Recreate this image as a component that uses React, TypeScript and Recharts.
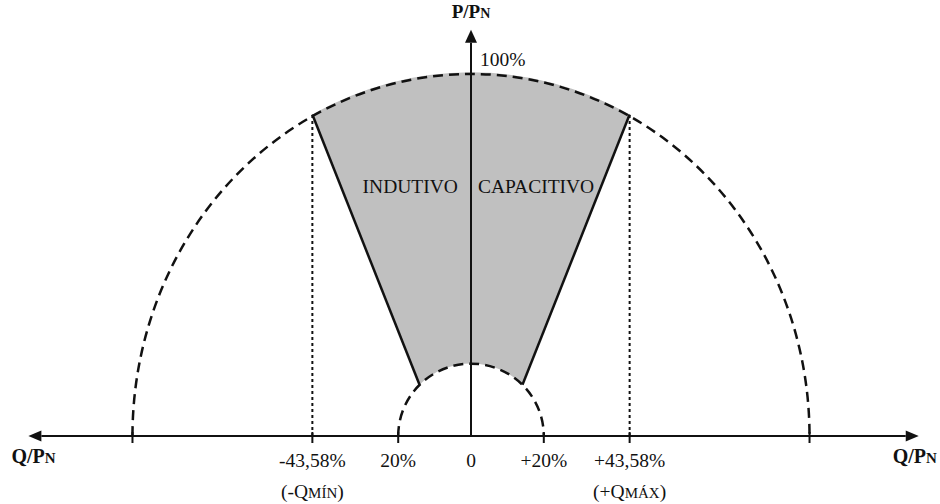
import React from 'react';
import { ComposedChart, XAxis, YAxis, Line, ReferenceLine, ReferenceArea } from 'recharts';

// geometry of the diagram, in % of Pn
const outerArc = { q: 93, p: 100 }; // big dashed arc as drawn (100% on P axis)
const innerArc = 20; // small dashed arc radius
const qLimits = [-43.58, 43.58];
const vertexP = 88.8; // where the limit lines meet the big arc
const innerJoint = { q: 14.14, p: 14.14 }; // where the edges meet the small arc

const leftEdge = [
  { q: -innerJoint.q, p: innerJoint.p },
  { q: qLimits[0], p: vertexP },
];
const rightEdge = [
  { q: innerJoint.q, p: innerJoint.p },
  { q: qLimits[1], p: vertexP },
];

const tickValues = [-93, -43.58, -20, 0, 20, 43.58, 93];
const tickLabels = ['', '-43,58%', '20%', '0', '+20%', '+43,58%', ''];
const tickNotes: (string[] | null)[] = [null, ['(-Q', 'MÍN', ')'], null, null, null, ['(+Q', 'MÁX', ')'], null];

const qAxisEnds = [-121.6, 123];
const pAxisTop = 112.2;
const regionLabels = ['INDUTIVO', 'CAPACITIVO'];

const FONT = "'Liberation Serif', 'Times New Roman', serif";
const INK = '#111';

const arrowHead = (x1: number, y1: number, x2: number, y2: number, len: number, hw: number) => {
  const dx = x2 - x1;
  const dy = y2 - y1;
  const l = Math.hypot(dx, dy) || 1;
  const ux = dx / l;
  const uy = dy / l;
  const bx = x2 - ux * len;
  const by = y2 - uy * len;
  return {
    base: [bx, by],
    pts: `${x2},${y2} ${bx - uy * hw},${by + ux * hw} ${bx + uy * hw},${by - ux * hw}`,
  };
};

const HorizontalAxis = (props: any) => {
  const { x1, y1, x2, y2 } = props;
  const a = arrowHead(x1, y1, x2, y2, 13, 5.5);
  const b = arrowHead(x2, y2, x1, y1, 13, 5.5);
  return (
    <g>
      <line x1={b.base[0]} y1={b.base[1]} x2={a.base[0]} y2={a.base[1]} stroke={INK} strokeWidth={2} />
      <polygon points={a.pts} fill={INK} />
      <polygon points={b.pts} fill={INK} />
      <text x={x1 - 17} y={y1 + 27} fontFamily={FONT} fontWeight="bold" fontSize={20} fill={INK}>
        Q/P<tspan fontSize={15}>N</tspan>
      </text>
      <text x={x2 - 26} y={y2 + 27} fontFamily={FONT} fontWeight="bold" fontSize={20} fill={INK}>
        Q/P<tspan fontSize={15}>N</tspan>
      </text>
    </g>
  );
};

const VerticalAxis = (props: any) => {
  const { x1, y1, x2, y2 } = props;
  const a = arrowHead(x1, y1, x2, y2, 13, 6);
  return (
    <g>
      <line x1={x1} y1={y1} x2={a.base[0]} y2={a.base[1]} stroke={INK} strokeWidth={2} />
      <polygon points={a.pts} fill={INK} />
      <text x={x2} y={y2 - 12} textAnchor="middle" fontFamily={FONT} fontWeight="bold" fontSize={19} fill={INK}>
        P/P<tspan fontSize={14}>N</tspan>
      </text>
    </g>
  );
};

// shaded operating region, drawn inside the box of the big arc
const SectorShape = (props: any) => {
  const { x, y, width, height } = props;
  const kx = width / (2 * outerArc.q);
  const ky = height / outerArc.p;
  const ox = x + width / 2;
  const oy = y + height;
  const px = (q: number) => ox + q * kx;
  const py = (p: number) => oy - p * ky;
  const d = [
    `M${px(leftEdge[1].q)},${py(leftEdge[1].p)}`,
    `L${px(leftEdge[0].q)},${py(leftEdge[0].p)}`,
    `A${innerArc * kx},${innerArc * ky} 0 0 1 ${px(rightEdge[0].q)},${py(rightEdge[0].p)}`,
    `L${px(rightEdge[1].q)},${py(rightEdge[1].p)}`,
    `A${outerArc.q * kx},${outerArc.p * ky} 0 0 0 ${px(leftEdge[1].q)},${py(leftEdge[1].p)}`,
    'Z',
  ].join(' ');
  return (
    <g>
      <path d={d} fill="#c0c0c0" stroke="none" />
      <text x={px(-3.6)} y={py(67.1)} textAnchor="end" fontFamily={FONT} fontSize={19.5} fill={INK}>
        {regionLabels[0]}
      </text>
      <text x={px(1.9)} y={py(67.1)} fontFamily={FONT} fontSize={19.5} fill={INK}>
        {regionLabels[1]}
      </text>
      <text x={px(2.5)} y={py(102.2)} fontFamily={FONT} fontSize={19.5} fill={INK}>
        100%
      </text>
    </g>
  );
};

const ArcShape = (props: any) => {
  const { x, y, width, height } = props;
  const d = `M${x},${y + height} A${width / 2},${height} 0 0 1 ${x + width},${y + height}`;
  return <path d={d} fill="none" stroke={INK} strokeWidth={2.5} strokeDasharray="10 6" />;
};

const QTick = (props: any) => {
  const { x, y, payload } = props;
  const i = tickValues.indexOf(payload.value);
  const note = tickNotes[i];
  return (
    <g>
      {payload.value !== 0 && <line x1={x} x2={x} y1={y - 4} y2={y + 7} stroke={INK} strokeWidth={2} />}
      {tickLabels[i] && (
        <text x={x} y={y + 31} textAnchor="middle" fontFamily={FONT} fontSize={19.5} fill={INK}>
          {tickLabels[i]}
        </text>
      )}
      {note && (
        <text x={x} y={y + 62} textAnchor="middle" fontFamily={FONT} fontSize={19.5} fill={INK}>
          {note[0]}
          <tspan fontSize={15}>{note[1]}</tspan>
          {note[2]}
        </text>
      )}
    </g>
  );
};

export default function App() {
  return (
    <div style={{ width: 940, height: 504, background: '#fff' }}>
      <style>{'body{margin:0}'}</style>
      <ComposedChart width={940} height={504} margin={{ top: 19.7, right: 14, bottom: 0, left: 16 }}>
        <XAxis
          type="number"
          dataKey="q"
          domain={[-125, 125]}
          ticks={tickValues}
          interval={0}
          axisLine={false}
          tickLine={false}
          tickSize={0}
          tickMargin={0}
          height={68}
          tick={<QTick />}
        />
        <YAxis type="number" dataKey="p" domain={[0, 115]} hide />
        <ReferenceArea
          x1={-outerArc.q}
          x2={outerArc.q}
          y1={0}
          y2={outerArc.p}
          shape={(p: any) => <SectorShape {...p} />}
        />
        <ReferenceLine
          segment={[{ x: 0, y: 0 }, { x: 0, y: pAxisTop }]}
          shape={(p: any) => <VerticalAxis {...p} />}
        />
        <ReferenceLine
          segment={[{ x: qAxisEnds[0], y: 0 }, { x: qAxisEnds[1], y: 0 }]}
          shape={(p: any) => <HorizontalAxis {...p} />}
        />
        <ReferenceArea
          x1={-outerArc.q}
          x2={outerArc.q}
          y1={0}
          y2={outerArc.p}
          shape={(p: any) => <ArcShape {...p} />}
        />
        <ReferenceArea
          x1={-innerArc}
          x2={innerArc}
          y1={0}
          y2={innerArc}
          shape={(p: any) => <ArcShape {...p} />}
        />
        {qLimits.map((q) => (
          <ReferenceLine
            key={q}
            segment={[{ x: q, y: 0 }, { x: q, y: vertexP }]}
            stroke="#111"
            strokeWidth={2}
            strokeDasharray="3 3"
          />
        ))}
        <Line data={leftEdge} dataKey="p" type="linear" stroke={INK} strokeWidth={2.5} dot={false} isAnimationActive={false} />
        <Line data={rightEdge} dataKey="p" type="linear" stroke={INK} strokeWidth={2.5} dot={false} isAnimationActive={false} />
      </ComposedChart>
    </div>
  );
}
